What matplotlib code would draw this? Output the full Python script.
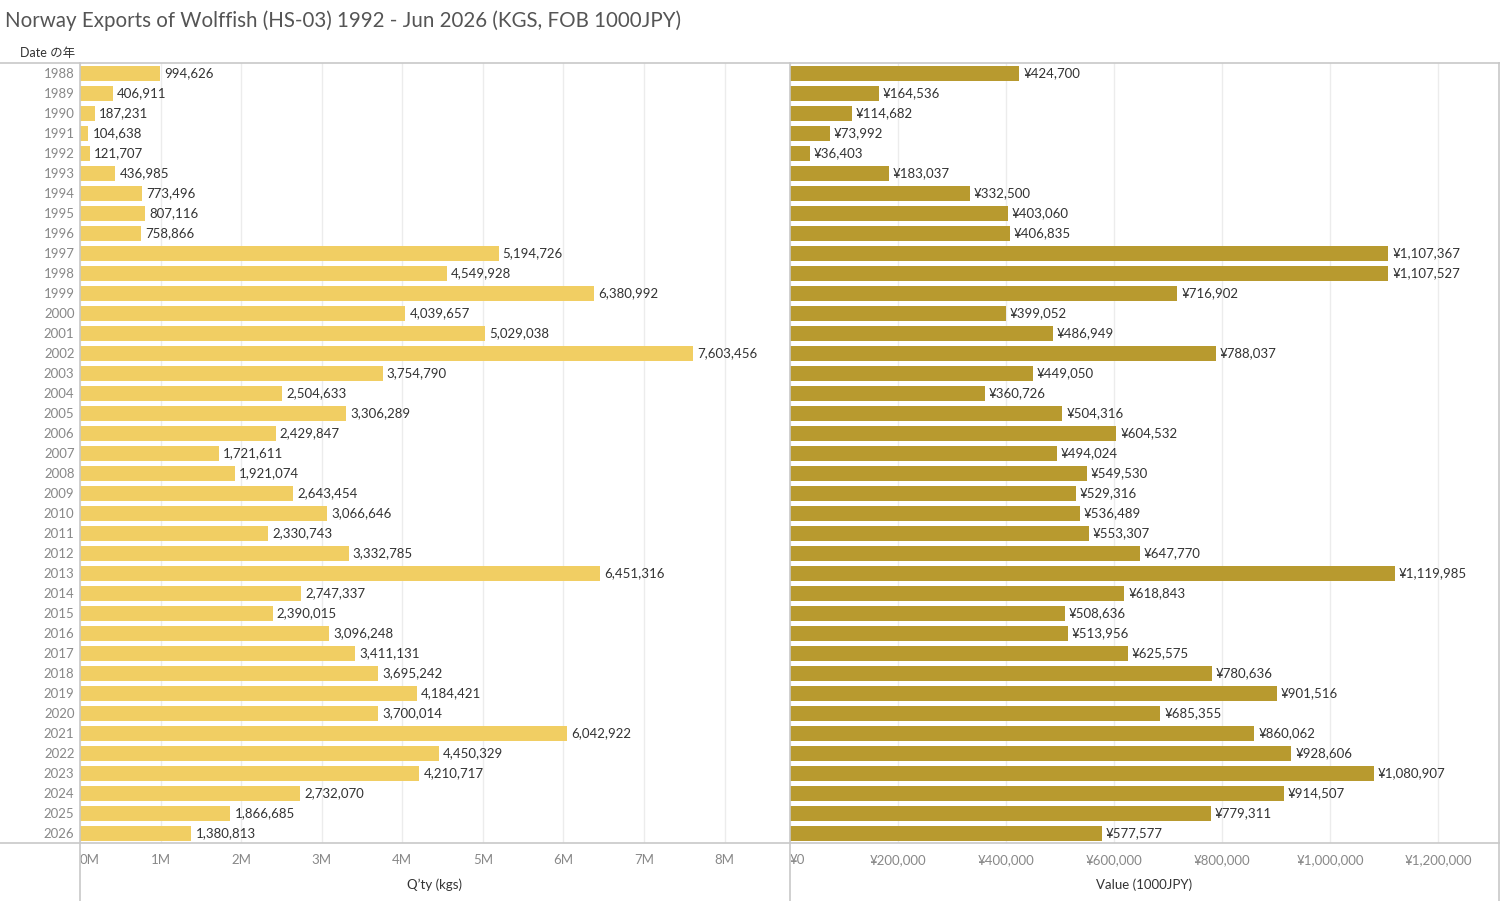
import matplotlib
matplotlib.use("Agg")
import matplotlib.pyplot as plt
from matplotlib.lines import Line2D

years = list(range(1988, 2027))
qty = [994626, 406911, 187231, 104638, 121707, 436985, 773496, 807116, 758866,
       5194726, 4549928, 6380992, 4039657, 5029038, 7603456, 3754790, 2504633,
       3306289, 2429847, 1721611, 1921074, 2643454, 3066646, 2330743, 3332785,
       6451316, 2747337, 2390015, 3096248, 3411131, 3695242, 4184421, 3700014,
       6042922, 4450329, 4210717, 2732070, 1866685, 1380813]
val = [424700, 164536, 114682, 73992, 36403, 183037, 332500, 403060, 406835,
       1107367, 1107527, 716902, 399052, 486949, 788037, 449050, 360726,
       504316, 604532, 494024, 549530, 529316, 536489, 553307, 647770,
       1119985, 618843, 508636, 513956, 625575, 780636, 901516, 685355,
       860062, 928606, 1080907, 914507, 779311, 577577]
qty_ticks = [0, 1e6, 2e6, 3e6, 4e6, 5e6, 6e6, 7e6, 8e6]
qty_ticklabels = ["0M", "1M", "2M", "3M", "4M", "5M", "6M", "7M", "8M"]
val_ticks = [0, 200000, 400000, 600000, 800000, 1000000, 1200000]
val_ticklabels = ["¥0", "¥200,000", "¥400,000", "¥600,000", "¥800,000",
                  "¥1,000,000", "¥1,200,000"]

plt.rcParams['font.family'] = ['Lato', 'Noto Sans CJK JP', 'DejaVu Sans']

W, H = 1500, 901
fig = plt.figure(figsize=(15, 9.01), dpi=100)

def fx(px):
    return px / W

def fy(py):
    return 1 - py / H

top, bottom = 63, 843
ax1 = fig.add_axes([fx(80), fy(bottom), fx(789 - 80), (bottom - top) / H])
ax2 = fig.add_axes([fx(790), fy(bottom), fx(1498 - 790), (bottom - top) / H])

ypos = list(range(len(years)))
c1 = "#F1CE63"
c2 = "#B89A2F"
b1 = ax1.barh(ypos, qty, height=0.75, color=c1, zorder=2)
b2 = ax2.barh(ypos, val, height=0.75, color=c2, zorder=2)
ax1.bar_label(b1, labels=[f"{v:,}" for v in qty], padding=3, fontsize=9.5, color="#333333")
ax2.bar_label(b2, labels=[f"¥{v:,}" for v in val], padding=3, fontsize=9.5, color="#333333")

for ax, lim in ((ax1, 8.8e6), (ax2, 1.311e6)):
    ax.set_xlim(0, lim)
    ax.set_ylim(len(years) - 0.5, -0.5)
    for s in ax.spines.values():
        s.set_visible(False)
    ax.grid(axis="x", color="#ececec", linewidth=1, zorder=0)
    ax.set_axisbelow(True)
    ax.tick_params(length=0, colors="#888888", labelsize=9.5)

ax1.set_yticks(ypos)
ax1.set_yticklabels([str(y) for y in years])
ax1.tick_params(axis="y", pad=4)
ax2.set_yticks([])

ax1.set_xticks(qty_ticks)
ax1.set_xticklabels(qty_ticklabels)
ax2.set_xticks(val_ticks)
ax2.set_xticklabels(val_ticklabels)
for ax in (ax1, ax2):
    ax.tick_params(axis="x", pad=8)
    lbls = ax.get_xticklabels()
    lbls[0].set_horizontalalignment("left")

ax1.set_xlabel("Q’ty (kgs)", fontsize=9.5, color="#333333", labelpad=9)
ax2.set_xlabel("Value (1000JPY)", fontsize=9.5, color="#333333", labelpad=9)

# frame lines
lc = "#c8c8c8"
fig.add_artist(Line2D([0, 1], [fy(top), fy(top)], color=lc, lw=1.2, transform=fig.transFigure))
fig.add_artist(Line2D([0, 1], [fy(bottom), fy(bottom)], color=lc, lw=1.2, transform=fig.transFigure))
for px in (80, 789.5, 1498.5):
    fig.add_artist(Line2D([fx(px), fx(px)], [fy(top), 0], color=lc, lw=1.2, transform=fig.transFigure))

fig.text(fx(5), fy(21), "Norway Exports of Wolffish (HS-03) 1992 - Jun 2026 (KGS, FOB 1000JPY)",
         fontsize=14.8, color="#555555", ha="left", va="center")
fig.text(fx(75), fy(53), "Date の年", fontsize=9, color="#333333", ha="right", va="center")

fig.savefig("out.png", dpi=100)
